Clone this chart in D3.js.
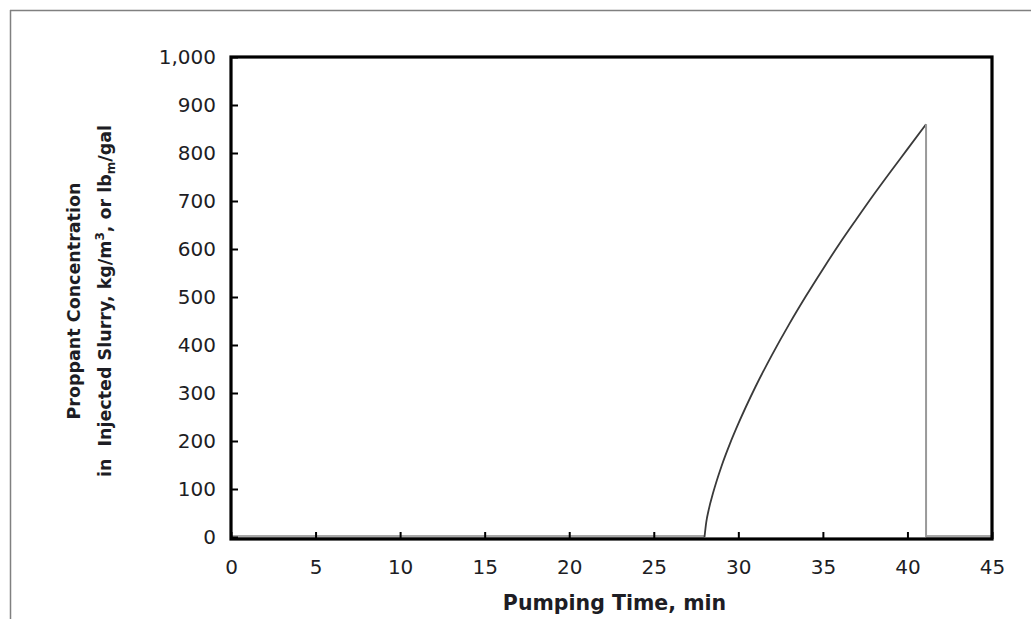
<!DOCTYPE html>
<html>
<head>
<meta charset="utf-8">
<script src="https://cdn.jsdelivr.net/npm/d3@7"></script>
<style>
  html, body { margin: 0; padding: 0; background: #fff; }
  svg { display: block; }
  text { font-family: "DejaVu Sans", "Liberation Sans", Arial, sans-serif; fill: #1d1d24; }
</style>
</head>
<body>
<svg id="chart" width="1031" height="619"></svg>
<script>
// Proppant schedule: injected slurry concentration versus pumping time
const timeMin = [0, 28, 28.1, 28.25, 28.5, 29, 29.5, 30, 31, 32, 33, 34, 35, 36, 37, 38, 39, 40, 41.1, 41.1, 45];
const concentration = [0, 0, 30, 57, 91, 147, 194, 236, 312, 380, 443, 502, 558, 612, 663, 713, 761, 808, 860, 0, 0];

const xTicks = [0, 5, 10, 15, 20, 25, 30, 35, 40, 45];
const yTicks = [0, 100, 200, 300, 400, 500, 600, 700, 800, 900, 1000];

const xTitle = "Pumping Time, min";
const yTitleLine1 = "Proppant Concentration";

const W = 1031, H = 619;
const plot = { left: 231, right: 992, top: 57, bottom: 537 };

const svg = d3.select("#chart");

// page frame (left and top rules)
svg.append("line").attr("x1", 10.5).attr("y1", 10).attr("x2", 10.5).attr("y2", H)
  .attr("stroke", "#808080").attr("stroke-width", 1.5);
svg.append("line").attr("x1", 10).attr("y1", 10.5).attr("x2", W).attr("y2", 10.5)
  .attr("stroke", "#808080").attr("stroke-width", 1.5);

const x = d3.scaleLinear().domain([0, 45]).range([plot.left, plot.right]);
const y = d3.scaleLinear().domain([0, 1000]).range([plot.bottom, plot.top]);

const pts = timeMin.map((t, i) => ({ t, c: concentration[i] }));

// split the schedule into zero stretches, the rising ramp and the drop-off
const flat = [], drop = [];
for (let i = 1; i < pts.length; i++) {
  const a = pts[i - 1], b = pts[i];
  if (a.c === 0 && b.c === 0) flat.push([a, b]);
  else if (b.c < a.c) drop.push([a, b]);
}
const peakIdx = d3.maxIndex(pts, d => d.c);
let startIdx = peakIdx;
while (startIdx > 0 && pts[startIdx].c > 0) startIdx--;
const rampPts = pts.slice(startIdx, peakIdx + 1);

const line = d3.line().x(d => x(d.t)).y(d => y(d.c));

// zero-concentration stretches
svg.append("g").selectAll("path").data(flat).join("path")
  .attr("d", line)
  .attr("fill", "none").attr("stroke", "#a8a8a8").attr("stroke-width", 3)
  .attr("transform", "translate(0,-0.5)");

// concentration ramp
svg.append("path").datum(rampPts)
  .attr("d", d3.line().x(d => x(d.t)).y(d => y(d.c)).curve(d3.curveMonotoneX))
  .attr("fill", "none").attr("stroke", "#3a3a3a").attr("stroke-width", 1.8);

// end of proppant stage
svg.append("g").selectAll("path").data(drop).join("path")
  .attr("d", line)
  .attr("fill", "none").attr("stroke", "#9a9a9a").attr("stroke-width", 2);

// plot box
svg.append("rect")
  .attr("x", plot.left).attr("y", plot.top)
  .attr("width", plot.right - plot.left).attr("height", plot.bottom - plot.top + 2)
  .attr("fill", "none").attr("stroke", "#000").attr("stroke-width", 3.2);

// axes: ticks point into the plot
const xAxis = d3.axisBottom(x).tickValues(xTicks).tickSizeInner(-7).tickSizeOuter(0).tickPadding(21);
const gx = svg.append("g").attr("transform", `translate(0,${plot.bottom + 2})`).call(xAxis);
gx.select(".domain").remove();
gx.selectAll(".tick line").attr("stroke", "#000").attr("stroke-width", 2);
gx.selectAll(".tick text").attr("font-size", 20).attr("fill", "#1d1d24")
  .attr("font-family", "DejaVu Sans, sans-serif");

const yAxis = d3.axisLeft(y).tickValues(yTicks).tickFormat(d3.format(",")).tickSizeInner(-7).tickSizeOuter(0).tickPadding(15);
const gy = svg.append("g").attr("transform", `translate(${plot.left},0)`).call(yAxis);
gy.select(".domain").remove();
gy.selectAll(".tick line").attr("stroke", "#000").attr("stroke-width", 2);
gy.selectAll(".tick text").attr("font-size", 20).attr("fill", "#1d1d24")
  .attr("font-family", "DejaVu Sans, sans-serif");

// axis titles
svg.append("text")
  .attr("x", (plot.left + plot.right) / 2 + 3).attr("y", 610)
  .attr("text-anchor", "middle").attr("font-size", 20.5).attr("font-weight", "bold")
  .text(xTitle);

const yMid = (plot.top + plot.bottom) / 2 + 4;
svg.append("text")
  .attr("transform", `translate(80,${yMid}) rotate(-90)`)
  .attr("text-anchor", "middle").attr("font-size", 17.5).attr("font-weight", "bold")
  .text(yTitleLine1);

const t2 = svg.append("text")
  .attr("transform", `translate(111,${yMid}) rotate(-90)`)
  .attr("text-anchor", "middle").attr("font-size", 17.5).attr("font-weight", "bold")
  .attr("xml:space", "preserve");
t2.append("tspan").text("in  Injected Slurry, kg/m");
t2.append("tspan").attr("dy", -7).attr("font-size", 12).text("3");
t2.append("tspan").attr("dy", 7).text(", or lb");
t2.append("tspan").attr("dy", 4).attr("font-size", 12).text("m");
t2.append("tspan").attr("dy", -4).text("/gal");
</script>
</body>
</html>
